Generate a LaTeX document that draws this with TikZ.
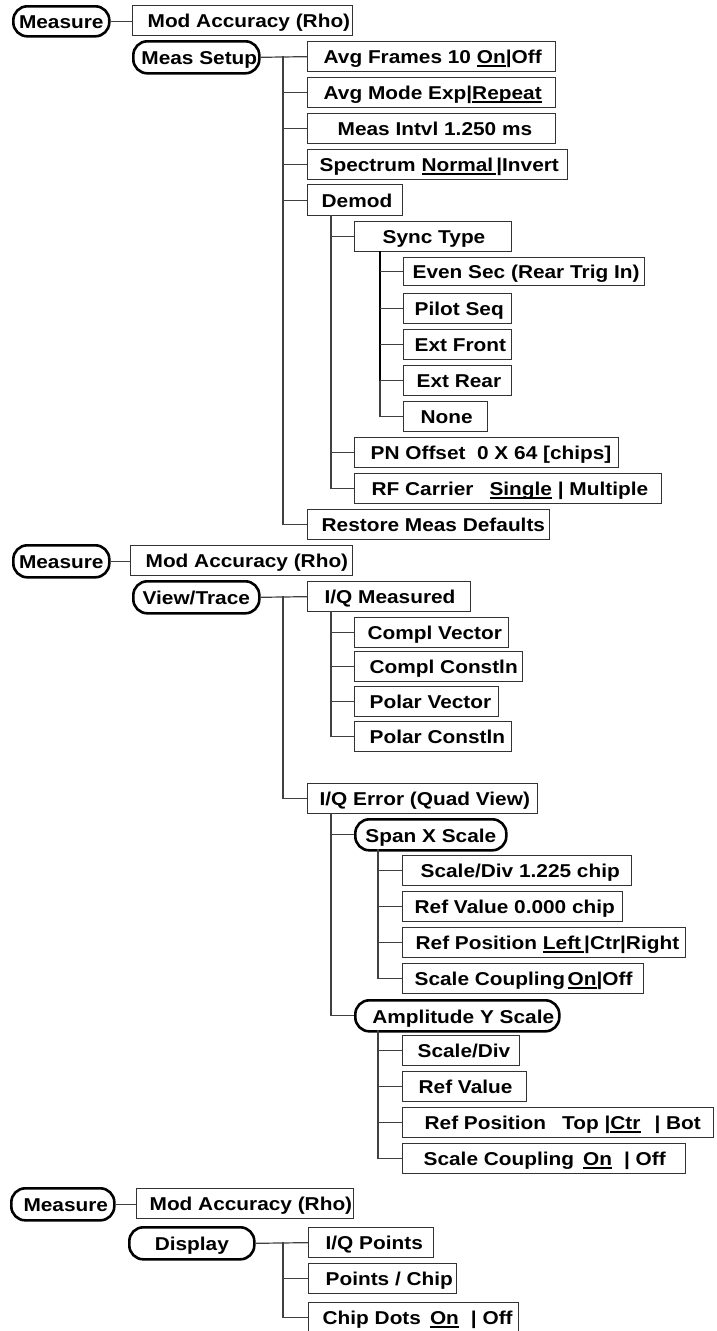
\documentclass[tikz,border=0pt]{standalone}
\usepackage{fontspec}
\setmainfont{Liberation Sans}[FakeStretch=1.12]
\usetikzlibrary{calc}
\definecolor{boxc}{gray}{0.2}
\definecolor{cnc}{gray}{0.25}
\newcommand{\tb}[3]{\makebox[#1pt][l]{\hspace*{#2pt}#3}}
\newcommand{\tc}[2]{\makebox[#1pt][c]{#2}}
\newcommand{\myul}[1]{\setbox0\hbox{#1}\rlap{\rule[-2.8pt]{\wd0}{1.4pt}}\box0\relax}
\begin{document}
\begin{tikzpicture}[x=1pt,y=-1pt,
  every node/.style={font=\fontsize{18.6}{22}\selectfont\bfseries},
  rb/.style={draw=boxc, line width=1.3, inner sep=0, minimum height=30, text height=16, text depth=1.4, anchor=north west},
  ov/.style={draw=black, line width=2.6, rounded corners=14, inner sep=0, minimum height=31, text height=16, text depth=1.4, anchor=north west},
  cn/.style={draw=cnc, line width=1.2},
  thk/.style={draw=black, line width=2}]
\fill[white] (0,0) rectangle (716,1331);
\useasboundingbox (0,0) rectangle (716,1331);

% ---------- block 1 ----------
\node[ov, minimum height=30] (m1) at (12,5) {\tc{96}{Measure}};
\node[rb] (a1) at (132,5) {\tb{220}{15}{Mod Accuracy (Rho)}};
\node[ov, minimum height=32] (ms) at (132,40) {\tc{126}{\hspace*{6pt}Meas Setup}};
\node[rb] (af) at (307,41) {\tb{248}{16}{Avg Frames 10 \myul{On}|Off}};
\node[rb] (am) at (307,77) {\tb{248}{16}{Avg Mode Exp|\myul{Repeat}}};
\node[rb] (mi) at (307,113) {\tb{248}{30}{Meas Intvl 1.250 ms}};
\node[rb] (sp) at (307,149) {\tb{260}{12}{Spectrum \myul{Normal\,}|Invert}};
\node[rb, minimum height=31] (dm) at (307,184) {\tb{95}{14}{Demod}};
\node[rb] (st) at (354,221) {\tb{157}{28}{Sync Type}};
\node[rb, minimum height=28] (es) at (403,257) {\tb{241}{9}{Even Sec (Rear Trig In)}};
\node[rb] (ps) at (403,293) {\tb{108}{11}{Pilot Seq}};
\node[rb] (ef) at (403,329) {\tb{108}{11}{Ext Front}};
\node[rb] (er) at (403,365) {\tb{108}{13}{Ext Rear}};
\node[rb] (no) at (403,401) {\tb{84}{17}{None}};
\node[rb] (pn) at (354,437) {\tb{264}{16}{PN Offset\ \ 0 X 64 [chips]}};
\node[rb] (rf) at (354,473) {\tb{307}{17}{RF Carrier\hspace{16pt}\myul{Single} | Multiple}};
\node[rb] (rs) at (307,509) {\tb{242}{14}{Restore Meas Defaults}};

\coordinate (t1) at (283,56);
\coordinate (t2) at (331,215);
\coordinate (t3) at (380,251);
\draw[cn] (m1.east) -- (m1.east -| a1.west);
\draw[cn] (ms.east) -- (af.west);
\draw[cn] (t1) |- (rs.west);
\foreach \n in {am,mi,sp,dm} \draw[cn] (t1 |- \n.west) -- (\n.west);
\draw[cn] (t2) |- (rf.west);
\foreach \n in {st,pn} \draw[cn] (t2 |- \n.west) -- (\n.west);
\draw[thk] (t3) -- (t3 |- er.west);
\draw[cn] (t3 |- er.west) |- (no.west);
\foreach \n in {es,ps,ef,er} \draw[cn] (t3 |- \n.west) -- (\n.west);

% ---------- block 2 ----------
\node[ov, minimum height=32] (m2) at (12,544) {\tc{96}{Measure}};
\node[rb] (a2) at (130,545) {\tb{222}{15}{Mod Accuracy (Rho)}};
\node[ov, minimum height=32] (vt) at (132,580) {\tc{126}{View/Trace}};
\node[rb] (iq) at (307,581) {\tb{163}{17}{I/Q Measured}};
\node[rb] (cv) at (354,617) {\tb{154}{13}{Compl Vector}};
\node[rb] (cc) at (354,651) {\tb{168}{15}{Compl Constln}};
\node[rb] (pv) at (354,686) {\tb{144}{15}{Polar Vector}};
\node[rb] (pc) at (354,721) {\tb{157}{15}{Polar Constln}};
\node[rb] (ie) at (307,783) {\tb{230}{12}{I/Q Error (Quad View)}};
\node[ov] (sx) at (354,818) {\tc{151}{Span X Scale}};
\node[rb] (sd) at (402,855) {\tb{229}{18}{Scale/Div 1.225 chip}};
\node[rb] (rv) at (402,891) {\tb{220}{12}{Ref Value 0.000 chip}};
\node[rb] (rp) at (402,927) {\tb{283}{13}{Ref Position \myul{Left\,}|Ctr|Right}};
\node[rb] (sc) at (402,963) {\tb{241}{12}{Scale Coupling\hspace{2.5pt}\myul{On}|Off}};
\node[ov] (ay) at (354,999) {\tc{204}{\hspace*{12pt}Amplitude Y Scale}};
\node[rb] (sd2) at (402,1035) {\tb{117}{15}{Scale/Div}};
\node[rb] (rv2) at (402,1071) {\tb{124}{16}{Ref Value}};
\node[rb] (rp2) at (402,1107) {\tb{311}{22}{Ref Position\hspace{16pt}Top |\myul{Ctr}\hspace{14pt}| Bot}};
\node[rb] (sc2) at (402,1143) {\tb{283}{21}{Scale Coupling\hspace{9pt}\myul{On}\hspace{12pt}| Off}};

\coordinate (t4) at (283,596);
\coordinate (t5) at (331,611);
\coordinate (t6) at (331,813);
\coordinate (t7) at (378,849);
\coordinate (t8) at (378,1030);
\draw[cn] (m2.east) -- (m2.east -| a2.west);
\draw[cn] (vt.east) -- (iq.west);
\draw[cn] (t4) |- (ie.west);
\draw[cn] (t5) |- (pc.west);
\foreach \n in {cv,cc,pv} \draw[cn] (t5 |- \n.west) -- (\n.west);
\draw[cn] (t6) |- (ay.west);
\draw[cn] (t6 |- sx.west) -- (sx.west);
\draw[cn] (t7) |- (sc.west);
\foreach \n in {sd,rv,rp} \draw[cn] (t7 |- \n.west) -- (\n.west);
\draw[cn] (t8) |- (sc2.west);
\foreach \n in {sd2,rv2,rp2} \draw[cn] (t8 |- \n.west) -- (\n.west);

% ---------- block 3 ----------
\node[ov, minimum height=32] (m3) at (10,1187) {\tc{103}{\hspace*{6pt}Measure}};
\node[rb] (a3) at (136,1188) {\tb{217}{13}{Mod Accuracy (Rho)}};
\node[ov, minimum height=32] (dp) at (128,1226) {\tc{125}{Display}};
\node[rb] (ip) at (308,1227) {\tb{125}{17}{I/Q Points}};
\node[rb] (pch) at (308,1263) {\tb{148}{17}{Points / Chip}};
\node[rb] (cd) at (308,1302) {\tb{210}{14}{Chip Dots\hspace{9pt}\myul{On}\hspace{12pt}| Off}};

\coordinate (t9) at (283,1242);
\draw[cn] (m3.east) -- (m3.east -| a3.west);
\draw[cn] (dp.east) -- (ip.west);
\draw[cn] (t9) |- (cd.west);
\draw[cn] (t9 |- pch.west) -- (pch.west);
\end{tikzpicture}
\end{document}
